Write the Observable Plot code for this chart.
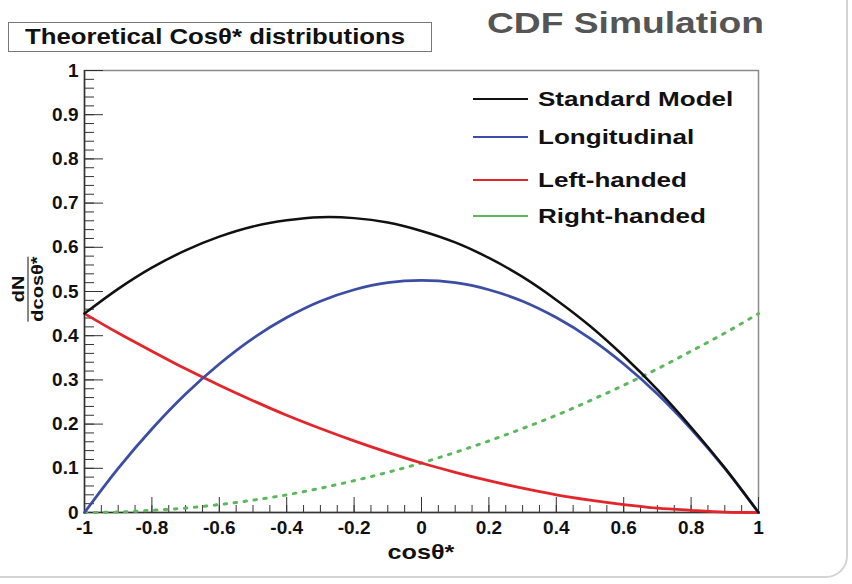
<!DOCTYPE html>
<html>
<head>
<meta charset="utf-8">
<script src="https://cdn.jsdelivr.net/npm/d3@7"></script>
<script src="https://cdn.jsdelivr.net/npm/@observablehq/plot@0.6"></script>
<style>
  html, body { margin: 0; padding: 0; background: #fff; }
  #wrap { position: relative; width: 852px; height: 584px; overflow: hidden; font-family: "Liberation Sans", Arial, sans-serif; font-weight: bold; color: #111; }
  #wrap svg.plot { position: absolute; left: 0; top: 0; }
  .abs { position: absolute; white-space: nowrap; }
  #titlebox { left: 8px; top: 22px; width: 424px; height: 30px; border: 1.5px solid #777; box-sizing: border-box; }
  #titlebox span { position: absolute; left: 16px; top: 0; font-size: 22px; line-height: 27px; transform-origin: left center; transform: scaleX(1.17); }
  #cdf { left: 487px; top: 6px; font-size: 30px; color: #555; transform-origin: left top; transform: scaleX(1.24); }
  #legend .row { position: absolute; left: 473px; height: 24px; }
  #legend .row span.sw { position: absolute; left: 0; top: 11px; width: 55px; height: 2px; }
  #legend .row span.lab { position: absolute; left: 65px; top: 0; font-size: 21px; line-height: 24px; transform-origin: left center; transform: scaleX(1.24); }
  #ylab { left: 28px; top: 289px; transform: translate(-50%, -50%) rotate(-90deg) scaleX(1.25); font-size: 16px; text-align: center; line-height: 16px; }
  #ylab .num { display: block; border-bottom: 1.5px solid #111; padding: 0 2px 1px; }
  #ylab .den { display: block; padding-top: 1px; }
  #xlab { left: 421px; top: 540px; transform: translateX(-50%) scaleX(1.2); font-size: 21px; }
  #border { left: -20px; top: -20px; width: 868px; height: 598px; border-right: 2px solid #d4d4d4; border-bottom: 2px solid #d4d4d4; border-bottom-right-radius: 22px; box-sizing: border-box; }
</style>
</head>
<body>
<div id="wrap"></div>
<script>
// cosθ* sample points
const cosTheta = [-1, -0.9, -0.8, -0.7, -0.6, -0.5, -0.4, -0.3, -0.2, -0.1, 0, 0.1, 0.2, 0.3, 0.4, 0.5, 0.6, 0.7, 0.8, 0.9, 1];
// values
const standardModel = [0.45, 0.506, 0.554, 0.593, 0.624, 0.647, 0.661, 0.668, 0.666, 0.656, 0.637, 0.611, 0.576, 0.533, 0.481, 0.422, 0.354, 0.278, 0.193, 0.101, 0];
const longitudinal  = [0, 0.100, 0.189, 0.268, 0.336, 0.394, 0.441, 0.478, 0.504, 0.520, 0.525, 0.520, 0.504, 0.478, 0.441, 0.394, 0.336, 0.268, 0.189, 0.100, 0];
const leftHanded    = [0.45, 0.406, 0.365, 0.325, 0.288, 0.253, 0.220, 0.190, 0.162, 0.136, 0.112, 0.091, 0.072, 0.055, 0.040, 0.028, 0.018, 0.010, 0.005, 0.001, 0];
const rightHanded   = [0, 0.001, 0.005, 0.010, 0.018, 0.028, 0.040, 0.055, 0.072, 0.091, 0.112, 0.136, 0.162, 0.190, 0.220, 0.253, 0.288, 0.325, 0.365, 0.406, 0.45];

const seriesNames = ["Standard Model", "Longitudinal", "Left-handed", "Right-handed"];
const seriesColors = ["#111111", "#3b4ea3", "#e3262b", "#5cb85c"];
const seriesValues = [standardModel, longitudinal, leftHanded, rightHanded];

const xMajor = [-1, -0.8, -0.6, -0.4, -0.2, 0, 0.2, 0.4, 0.6, 0.8, 1];
const xMinor = d3.range(0, 41).map(i => -1 + i * 0.05);
const yMajor = [0, 0.1, 0.2, 0.3, 0.4, 0.5, 0.6, 0.7, 0.8, 0.9, 1];
const yMinor = d3.range(0, 51).map(i => i * 0.02);

const titleText = "Theoretical Cos\u03b8* distributions";
const headerText = "CDF Simulation";
const xTitle = "cos\u03b8*";

const rows = [];
seriesNames.forEach((name, s) => cosTheta.forEach((c, i) => rows.push({series: name, x: c, y: seriesValues[s][i]})));

const fmt = d => String(+d.toFixed(2));

const plot = Plot.plot({
  width: 852,
  height: 584,
  marginTop: 70,
  marginRight: 94,
  marginBottom: 72,
  marginLeft: 84,
  style: {fontFamily: "'Liberation Sans', Arial, sans-serif", fontSize: "19px", fontWeight: "bold", color: "#111", background: "transparent"},
  x: {domain: [-1, 1]},
  y: {domain: [0, 1]},
  marks: [
    Plot.frame({stroke: "#8a8a8a", strokeWidth: 1.5}),
    Plot.axisX({ticks: xMinor, tickSize: -7, text: null, stroke: "#333", label: null}),
    Plot.axisX({ticks: xMajor, tickSize: -15, text: null, stroke: "#333", label: null}),
    Plot.axisX({ticks: xMajor, tickSize: 0, tickPadding: 8, tickFormat: fmt, label: null}),
    Plot.axisY({ticks: yMinor, tickSize: -10, text: null, stroke: "#333", label: null}),
    Plot.axisY({ticks: yMajor, tickSize: -19, text: null, stroke: "#333", label: null}),
    Plot.axisY({ticks: yMajor, tickSize: 0, tickPadding: 6, tickFormat: fmt, label: null}),
    Plot.ruleX([-1], {stroke: "#333", strokeWidth: 1.5}),
    Plot.ruleY([0], {stroke: "#333", strokeWidth: 1.5}),
    Plot.line(rows.filter(d => d.series === "Right-handed"), {x: "x", y: "y", stroke: seriesColors[3], strokeWidth: 3, strokeDasharray: "2.5,7.5", curve: "catmull-rom"}),
    Plot.line(rows.filter(d => d.series === "Left-handed"), {x: "x", y: "y", stroke: seriesColors[2], strokeWidth: 2.8, curve: "catmull-rom"}),
    Plot.line(rows.filter(d => d.series === "Longitudinal"), {x: "x", y: "y", stroke: seriesColors[1], strokeWidth: 2.8, curve: "catmull-rom"}),
    Plot.line(rows.filter(d => d.series === "Standard Model"), {x: "x", y: "y", stroke: seriesColors[0], strokeWidth: 2.5, curve: "catmull-rom"})
  ]
});
plot.classList.add("plot");

const wrap = document.getElementById("wrap");
wrap.appendChild(plot);

function add(id, html) {
  const d = document.createElement("div");
  d.className = "abs";
  d.id = id;
  d.innerHTML = html;
  wrap.appendChild(d);
  return d;
}
add("border", "");
add("titlebox", "<span>" + titleText + "</span>");
add("cdf", headerText);
add("xlab", xTitle);
add("ylab", '<span class="num">dN</span><span class="den">dcos\u03b8*</span>');
const legend = add("legend", "");
const rowTops = [87, 125, 168, 204];
seriesNames.forEach((n, i) => {
  const r = document.createElement("div");
  r.className = "row";
  r.style.top = rowTops[i] + "px";
  r.innerHTML = `<span class="sw" style="background:${seriesColors[i]}"></span><span class="lab">${n}</span>`;
  legend.appendChild(r);
});
</script>
</body>
</html>
